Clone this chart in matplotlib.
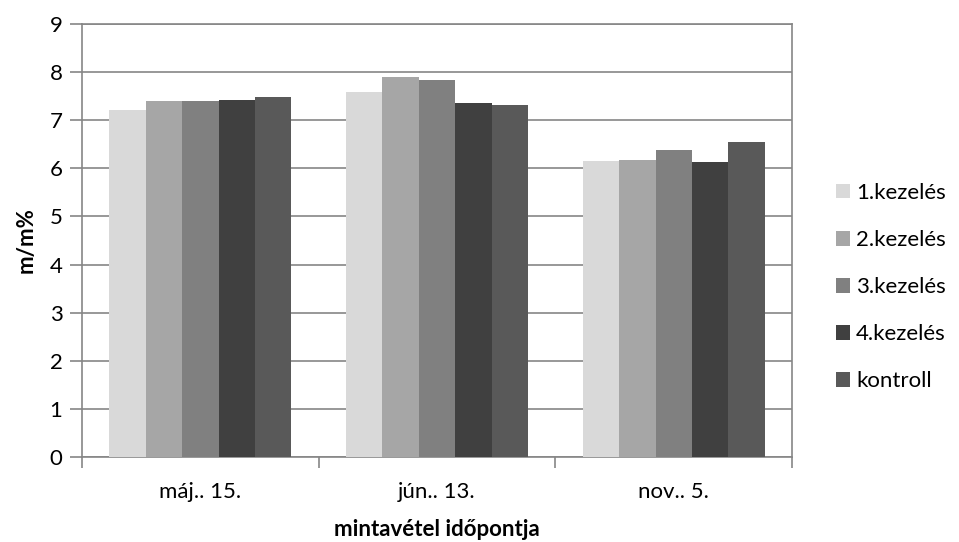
import numpy as np
import matplotlib.pyplot as plt

plt.rcParams['font.family'] = ['Lato', 'DejaVu Sans']

categories = ['máj.. 15.', 'jún.. 13.', 'nov.. 5.']
series_names = ['1.kezelés', '2.kezelés', '3.kezelés', '4.kezelés', 'kontroll']
values = {
    '1.kezelés': [7.21, 7.58, 6.16],
    '2.kezelés': [7.39, 7.90, 6.17],
    '3.kezelés': [7.40, 7.83, 6.38],
    '4.kezelés': [7.41, 7.35, 6.13],
    'kontroll':  [7.49, 7.31, 6.54],
}
colors = ['#d9d9d9', '#a6a6a6', '#808080', '#404040', '#595959']
y_ticks = list(range(0, 10))

fig = plt.figure(figsize=(9.59, 5.42), dpi=100)
ax = fig.add_axes([0.0855, 0.157, 0.7405, 0.7987])

n = len(series_names)
width = 1 / 6.5
x = np.arange(len(categories))
for i, name in enumerate(series_names):
    offs = (i - (n - 1) / 2) * width
    ax.bar(x + offs, values[name], width, color=colors[i], label=name,
           zorder=3, linewidth=0)

ax.set_xlim(-0.5, len(categories) - 0.5)
ax.set_ylim(0, 9)
ax.set_yticks(y_ticks)
ax.set_xticks(x)
ax.set_xticklabels(categories)
ax.set_xticks(np.arange(-0.5, len(categories)), minor=True)

grid_c = '#868686'
fs = 16
ax.yaxis.grid(True, color=grid_c, linewidth=1.2, zorder=0)
for s in ax.spines.values():
    s.set_color(grid_c)
    s.set_linewidth(1.2)
ax.tick_params(axis='y', which='major', length=9, width=1.2, color=grid_c,
               labelsize=fs, pad=5)
ax.tick_params(axis='x', which='major', length=0, labelsize=fs, pad=18)
ax.tick_params(axis='x', which='minor', length=8, width=1.2, color=grid_c)

ax.set_ylabel('m/m%', fontsize=fs, fontweight='bold', labelpad=9)
ax.set_xlabel('mintavétel időpontja', fontsize=fs, fontweight='bold', labelpad=12)

leg = fig.legend(loc='center left', bbox_to_anchor=(0.862, 0.47), frameon=False,
                 fontsize=fs, handlelength=0.63, handleheight=0.63,
                 handletextpad=0.3, labelspacing=1.22, borderaxespad=0)

fig.savefig('out.png', dpi=100)
